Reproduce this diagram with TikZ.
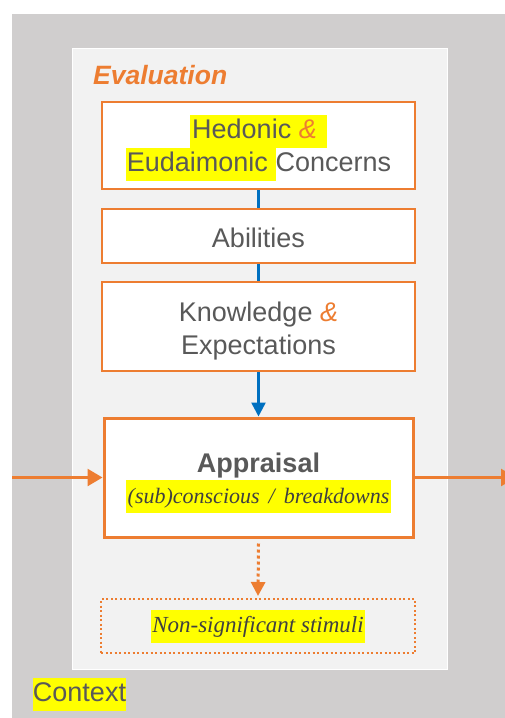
\documentclass[tikz,border=0pt]{standalone}
\usepackage{fontspec}
\newfontfamily\sansfont{Liberation Sans}
\newfontfamily\notefont{Liberation Serif}
\usetikzlibrary{arrows.meta}
\definecolor{accent}{HTML}{ED7D31}
\definecolor{flowblue}{HTML}{0070C0}
\definecolor{ctxgray}{HTML}{D0CECE}
\definecolor{panelgray}{HTML}{F2F2F2}
\definecolor{hlyellow}{HTML}{FFFF00}
\definecolor{txtgray}{HTML}{595959}
\definecolor{notegray}{HTML}{404040}
% yellow text marker
\newcommand\hlmark[1]{{\setlength{\fboxsep}{0pt}\colorbox{hlyellow}{\strut #1}}}
% italic serif used for the notes
\newcommand\noteface{\notefont\itshape\fontsize{23}{33}\selectfont\color{notegray}}
% raises the top of a first line
\newcommand\toprule[1]{\rule{0pt}{#1}}
\tikzset{
  evalbox/.style={draw=accent, line width=2pt, fill=white, minimum width=313pt,
    text=txtgray, font=\sansfont\fontsize{27}{33}\selectfont, align=center, inner sep=0pt},
  blueflow/.style={draw=flowblue, line width=2.5pt},
  bluearrow/.style={blueflow, -{Triangle[width=14pt,length=14pt]}},
  orangearrow/.style={draw=accent, line width=2.5pt, -{Triangle[width=17pt,length=15pt]}},
  dotarrow/.style={draw=accent, line width=3pt, dash pattern=on 3pt off 3pt,
    -{Triangle[width=14pt,length=14pt]}},
}
\begin{document}
\begin{tikzpicture}[x=1pt,y=-1pt]
  \clip (0,0) rectangle (505,718);
  \fill[white] (0,0) rectangle (505,718);
  % context and evaluation areas
  \fill[ctxgray] (12,14) rectangle (505,718);
  \filldraw[fill=panelgray, draw=white, line width=1pt] (72,48) rectangle (447,669);
  \node[anchor=base west, inner sep=0pt, text=accent,
    font=\sansfont\bfseries\itshape\fontsize{26.5}{30}\selectfont]
    (evaltitle) at (93,84) {Evaluation};

  % evaluation components
  \node[evalbox, minimum height=87pt] (hed) at (258.5,145.5)
    {\toprule{29pt}\hlmark{\hspace{2pt}Hedonic \textit{\textcolor{accent}{\&}}\hspace{10pt}}\\
     \hlmark{\hspace{1pt}Eudaimonic\ }Concerns};
  \node[evalbox, minimum height=54pt] (abil) at (258.5,236) {\toprule{24pt}Abilities};
  \node[evalbox, minimum height=89pt] (know) at (258.5,326.5)
    {\toprule{28pt}Knowledge \textit{\textcolor{accent}{\&}}\\Expectations};

  \node[evalbox, line width=3pt, minimum width=309pt, minimum height=119pt] (appr) at (258.5,477.5)
    {\toprule{30pt}{\bfseries Appraisal}\\[-2pt]
     {\noteface\fontsize{22}{33}\selectfont
      \hlmark{\hspace{2pt}(sub)conscious\hspace{9pt}/\hspace{9pt}breakdowns\hspace{2pt}}}};

  \node[draw=accent, line width=2pt, dash pattern=on 2pt off 2.5pt, minimum width=314pt,
    minimum height=54pt, inner sep=0pt, font=\noteface] (nonsig) at (258,626)
    {\hlmark{\hspace{1pt}Non-significant stimuli\hspace{1pt}}};

  \node[font=\sansfont\fontsize{27}{33}\selectfont, text=txtgray, inner sep=0pt]
    (ctx) at (79.5,694.5) {\hlmark{Context}};

  % connectors
  \draw[blueflow] (hed.south) -- (abil.north);
  \draw[blueflow] (abil.south) -- (know.north);
  \draw[bluearrow] (know.south) -- (appr.north);

  \coordinate (inflow) at (12,477.5);
  \coordinate (outflow) at (516,477.5);
  \draw[orangearrow] (inflow) -- (appr.west);
  \draw[orangearrow] (appr.east) -- (outflow);
  \draw[dotarrow] ([yshift=-5pt]appr.south) -- ([yshift=2pt]nonsig.north);
\end{tikzpicture}
\end{document}
